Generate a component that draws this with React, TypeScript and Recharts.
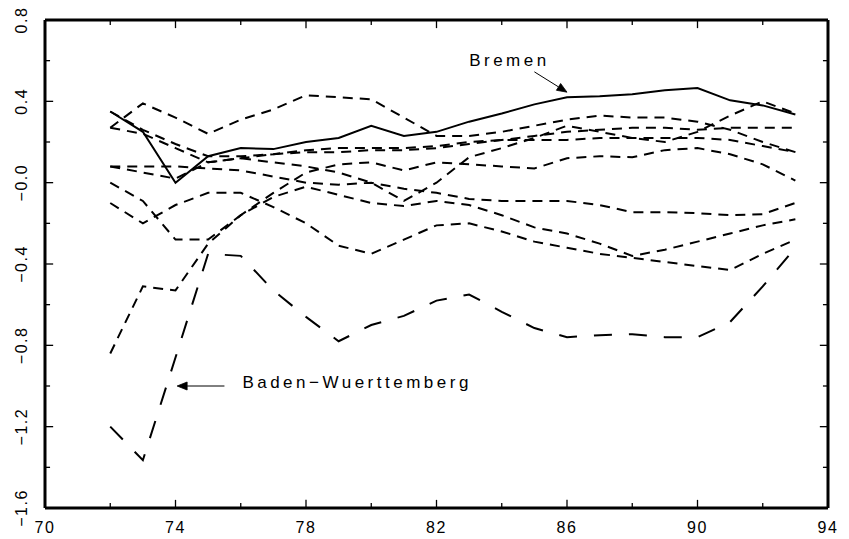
import React from 'react';
import { LineChart, Line, XAxis, YAxis, ReferenceLine, ReferenceDot } from 'recharts';

// years 1972..1993 (two-digit)
const years = [72, 73, 74, 75, 76, 77, 78, 79, 80, 81, 82, 83, 84, 85, 86, 87, 88, 89, 90, 91, 92, 93];

const bremen = [0.35, 0.25, 0.0, 0.13, 0.17, 0.165, 0.2, 0.22, 0.28, 0.23, 0.25, 0.3, 0.34, 0.385, 0.42, 0.425, 0.435, 0.455, 0.465, 0.405, 0.38, 0.335];
const badenW = [-1.2, -1.365, -0.86, -0.35, -0.36, -0.53, -0.66, -0.78, -0.7, -0.655, -0.58, -0.55, -0.635, -0.715, -0.76, -0.75, -0.745, -0.76, -0.76, -0.685, -0.51, -0.32];
const s1 = [0.27, 0.39, 0.32, 0.24, 0.31, 0.36, 0.43, 0.42, 0.41, 0.32, 0.23, 0.23, 0.25, 0.28, 0.31, 0.33, 0.32, 0.32, 0.3, 0.26, 0.2, 0.15];
const s2 = [0.35, 0.26, 0.19, 0.13, 0.13, 0.14, 0.16, 0.17, 0.17, 0.17, 0.18, 0.2, 0.21, 0.21, 0.21, 0.22, 0.22, 0.22, 0.22, 0.21, 0.18, 0.15];
const s3 = [0.27, 0.24, 0.17, 0.1, 0.12, 0.14, 0.15, 0.15, 0.16, 0.16, 0.17, 0.19, 0.21, 0.23, 0.25, 0.26, 0.27, 0.27, 0.26, 0.27, 0.27, 0.27];
const s4 = [0.08, 0.08, 0.08, 0.07, 0.06, 0.03, 0.0, -0.01, 0.0, -0.03, -0.05, -0.08, -0.09, -0.09, -0.09, -0.11, -0.145, -0.145, -0.15, -0.16, -0.155, -0.1];
const s5 = [0.0, -0.09, -0.28, -0.28, -0.16, -0.07, -0.02, -0.06, -0.1, -0.115, -0.09, -0.11, -0.16, -0.22, -0.25, -0.3, -0.36, -0.33, -0.29, -0.25, -0.21, -0.18];
const s6 = [-0.1, -0.2, -0.11, -0.05, -0.05, -0.12, -0.2, -0.31, -0.35, -0.28, -0.21, -0.2, -0.24, -0.29, -0.32, -0.35, -0.37, -0.39, -0.41, -0.43, -0.35, -0.28];
const s7 = [-0.84, -0.51, -0.53, -0.3, -0.16, -0.05, 0.05, 0.09, 0.1, 0.06, 0.1, 0.09, 0.08, 0.07, 0.12, 0.13, 0.125, 0.16, 0.17, 0.14, 0.09, 0.01];
const s8 = [0.08, 0.05, 0.02, 0.1, 0.12, 0.1, 0.08, 0.05, 0.0, -0.09, 0.0, 0.125, 0.17, 0.22, 0.28, 0.25, 0.22, 0.2, 0.25, 0.33, 0.4, 0.34];

const dashedSeries = [s1, s2, s3, s4, s5, s6, s7, s8];

const X_MIN = 70;
const X_MAX = 94;
const Y_MIN = -1.6;
const Y_MAX = 0.8;
const xTicks = [70, 72, 74, 76, 78, 80, 82, 84, 86, 88, 90, 92, 94];
const xLabels = [70, 74, 78, 82, 86, 90, 94];
const yTicks = [-1.6, -1.4, -1.2, -1.0, -0.8, -0.6, -0.4, -0.2, 0, 0.2, 0.4, 0.6, 0.8];
const yLabels: Record<string, string> = {
  '0.8': '0.8', '0.4': '0.4', '0': '\u22120.0', '-0.4': '\u22120.4',
  '-0.8': '\u22120.8', '-1.2': '\u22121.2', '-1.6': '\u22121.6',
};

const data = years.map((yr, i) => {
  const row: Record<string, number> = { year: yr, bremen: bremen[i], badenW: badenW[i] };
  dashedSeries.forEach((s, k) => { row['s' + (k + 1)] = s[i]; });
  return row;
});

const FONT = '"Liberation Sans", Arial, sans-serif';
const yKey = (v: number) => String(Math.round(v * 10) / 10);

// inward tick lengths in data units (about 8px major / 5px minor)
const xTickLen = (major: boolean) => (major ? 0.04 : 0.025);
const yTickLen = (major: boolean) => (major ? 0.25 : 0.155);

const BottomLabel = (props: any) => {
  const { x, y, payload } = props;
  if (!xLabels.includes(payload.value)) return <g />;
  return (
    <text x={x} y={y + 25} textAnchor="middle" fontSize={16} fontFamily={FONT} letterSpacing={1.5} fill="#000">
      {payload.value}
    </text>
  );
};

const LeftLabel = (props: any) => {
  const { x, y, payload } = props;
  const label = yLabels[yKey(payload.value)];
  if (label === undefined) return <g />;
  const tx = x - 18;
  return (
    <text x={tx} y={y} transform={`rotate(-90 ${tx} ${y})`} textAnchor="middle" fontSize={16}
      fontFamily={FONT} letterSpacing={1.5} fill="#000">
      {label}
    </text>
  );
};

const Arrow = (props: any) => {
  const { x1, y1, x2, y2 } = props;
  const ang = Math.atan2(y2 - y1, x2 - x1);
  const L = 10;
  const W = 4;
  const bx = x2 - L * Math.cos(ang);
  const by = y2 - L * Math.sin(ang);
  const px = -Math.sin(ang) * W;
  const py = Math.cos(ang) * W;
  return (
    <g>
      <line x1={x1} y1={y1} x2={bx} y2={by} stroke="#000" strokeWidth={1} />
      <polygon points={`${x2},${y2} ${bx + px},${by + py} ${bx - px},${by - py}`} fill="#000" stroke="#000" strokeWidth={0.8} />
    </g>
  );
};

const LabelText = (text: string) => (props: any) => (
  <text x={props.cx} y={props.cy} fontSize={17} fontFamily={FONT} letterSpacing={3.5} fill="#000">
    {text}
  </text>
);

const tickSegments = [
  ...xTicks.flatMap((t) => {
    const len = xTickLen(xLabels.includes(t));
    return [
      [{ x: t, y: Y_MIN }, { x: t, y: Y_MIN + len }],
      [{ x: t, y: Y_MAX }, { x: t, y: Y_MAX - len }],
    ];
  }),
  ...yTicks.flatMap((t) => {
    const len = yTickLen(yLabels[yKey(t)] !== undefined);
    return [
      [{ x: X_MIN, y: t }, { x: X_MIN + len, y: t }],
      [{ x: X_MAX, y: t }, { x: X_MAX - len, y: t }],
    ];
  }),
];

export default function App() {
  return (
    <div style={{ position: 'absolute', left: 0, top: 0, background: '#fff' }}>
      <LineChart width={849} height={539} data={data} margin={{ top: 19, right: 20, left: 0, bottom: 0 }}>
        <XAxis dataKey="year" type="number" domain={[X_MIN, X_MAX]} ticks={xTicks} interval={0}
          height={31} tickSize={0} tickMargin={0} tick={<BottomLabel />} tickLine={false}
          axisLine={{ stroke: '#000', strokeWidth: 3 }} />
        <XAxis xAxisId="top" orientation="top" dataKey="year" type="number" domain={[X_MIN, X_MAX]}
          height={1} tick={false} tickLine={false} axisLine={{ stroke: '#000', strokeWidth: 3 }} />
        <YAxis type="number" domain={[Y_MIN, Y_MAX]} ticks={yTicks} interval={0} width={45}
          tickSize={0} tickMargin={0} tick={<LeftLabel />} tickLine={false} allowDataOverflow
          axisLine={{ stroke: '#000', strokeWidth: 3 }} />
        <YAxis yAxisId="right" orientation="right" type="number" domain={[Y_MIN, Y_MAX]}
          width={1} tick={false} tickLine={false} allowDataOverflow
          axisLine={{ stroke: '#000', strokeWidth: 3 }} />

        {tickSegments.map((seg, i) => (
          <ReferenceLine key={'t' + i} segment={seg} stroke="#000" strokeWidth={1.3} ifOverflow="visible" />
        ))}

        {dashedSeries.map((_, k) => (
          <Line key={k} type="linear" dataKey={'s' + (k + 1)} stroke="#000" strokeWidth={2}
            strokeDasharray="10 7" dot={false} activeDot={false} isAnimationActive={false} />
        ))}
        <Line type="linear" dataKey="badenW" stroke="#000" strokeWidth={2} strokeDasharray="18 17"
          dot={false} activeDot={false} isAnimationActive={false} />
        <Line type="linear" dataKey="bremen" stroke="#000" strokeWidth={2}
          dot={false} activeDot={false} isAnimationActive={false} />

        <ReferenceLine segment={[{ x: 85.0, y: 0.545 }, { x: 86.0, y: 0.445 }]} shape={Arrow} ifOverflow="visible" />
        <ReferenceLine segment={[{ x: 75.5, y: -1.0 }, { x: 74.05, y: -1.0 }]} shape={Arrow} ifOverflow="visible" />
        <ReferenceDot x={83.0} y={0.575} r={0} shape={LabelText('Bremen')} ifOverflow="visible" />
        <ReferenceDot x={76.05} y={-1.01} r={0} shape={LabelText('Baden\u2212Wuerttemberg')} ifOverflow="visible" />
      </LineChart>
    </div>
  );
}
